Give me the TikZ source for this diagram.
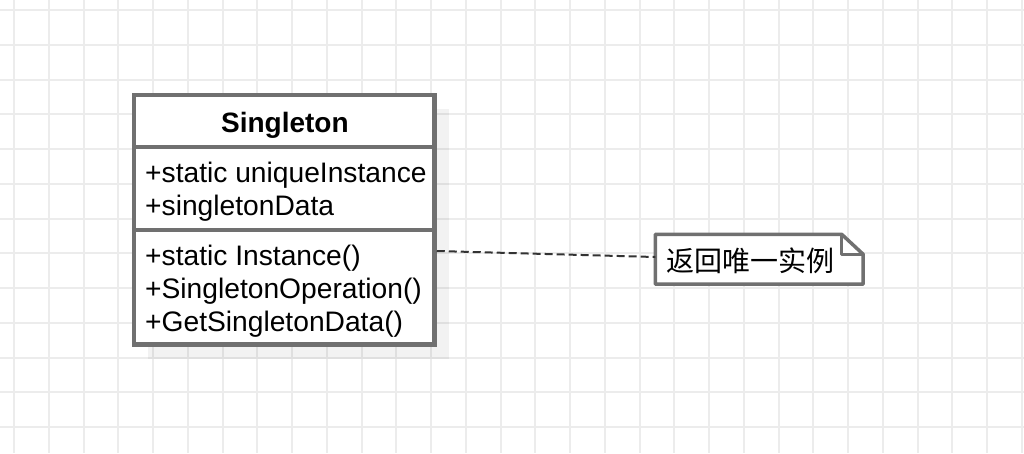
\documentclass[tikz,border=0pt]{standalone}
\usepackage{fontspec}
\setmainfont{Liberation Sans}
\newfontfamily\cjk{Noto Sans CJK SC}
\usetikzlibrary{shadows}
\definecolor{gridc}{RGB}{236,236,236}
\definecolor{boxc}{RGB}{112,112,112}
\definecolor{dashc}{RGB}{51,51,51}
\tikzset{
  gridline/.style={draw=gridc, line width=2pt},
  classbox/.style={draw=boxc, line width=4.5pt, fill=white, minimum width=300.5pt, minimum height=249.5pt, inner sep=0pt,
    drop shadow={shadow xshift=14pt, shadow yshift=-14pt, fill=black, opacity=0.05}},
  sepline/.style={draw=boxc, line width=4.5pt},
  notebox/.style={minimum width=207.5pt, minimum height=49.5pt, inner sep=0pt},
  noteline/.style={draw=boxc, line width=3.5pt, fill=white, line join=round},
  foldline/.style={draw=boxc, line width=3.5pt, line join=round},
  uml/.style={font=\fontsize{28.2}{33.6}\selectfont, inner sep=0pt, anchor=base west},
  umltitle/.style={font=\fontsize{28}{33.6}\selectfont\bfseries, inner sep=0pt, anchor=base},
  notetext/.style={font=\fontsize{28}{33.6}\selectfont\cjk, inner sep=0pt},
  dep/.style={draw=dashc, line width=2pt, dash pattern=on 8pt off 4pt}
}
\begin{document}
\begin{tikzpicture}[x=1pt, y=-1pt]
\useasboundingbox (0,0) rectangle (1024,453);
\fill[white] (0,0) rectangle (1024,453);
% grid
\foreach \i in {0,...,29} {
  \draw[gridline] ({14+34.75*\i},0) -- ({14+34.75*\i},453);
}
\foreach \j in {0,...,12} {
  \draw[gridline] (0,{10+34.75*\j}) -- (1024,{10+34.75*\j});
}
% class
\node[classbox] (cls) at (284.25,219.75) {};
\draw[sepline] ([yshift=-54pt]cls.north west) -- ([yshift=-54pt]cls.north east);
\draw[sepline] ([yshift=-137pt]cls.north west) -- ([yshift=-137pt]cls.north east);
\node[umltitle] (title) at (284.9,132.5) {Singleton};
\node[uml] (a1) at (145,182.5) {+static uniqueInstance};
\node[uml] (a2) at (145,215.5) {+singletonData};
\node[uml] (m1) at (145,265.5) {+static Instance()};
\node[uml] (m2) at (145,298.5) {+SingletonOperation()};
\node[uml] (m3) at (145,331) {+GetSingletonData()};
% note
\node[notebox] (note) at (759.25,259.25) {};
\draw[noteline] (note.north west) -- ([xshift=-21.5pt]note.north east) -- ([yshift=-20pt]note.north east) -- (note.south east) -- (note.south west) -- cycle;
\draw[foldline] ([xshift=-21.5pt]note.north east) -- ([xshift=-21.5pt,yshift=-20pt]note.north east) -- ([yshift=-20pt]note.north east);
\node[notetext] (nt) at (750,260.5) {返回唯一实例};
% dependency
\draw[dep] ([yshift=-31.25pt]cls.east) -- ([yshift=2.25pt]note.west);
\end{tikzpicture}
\end{document}
